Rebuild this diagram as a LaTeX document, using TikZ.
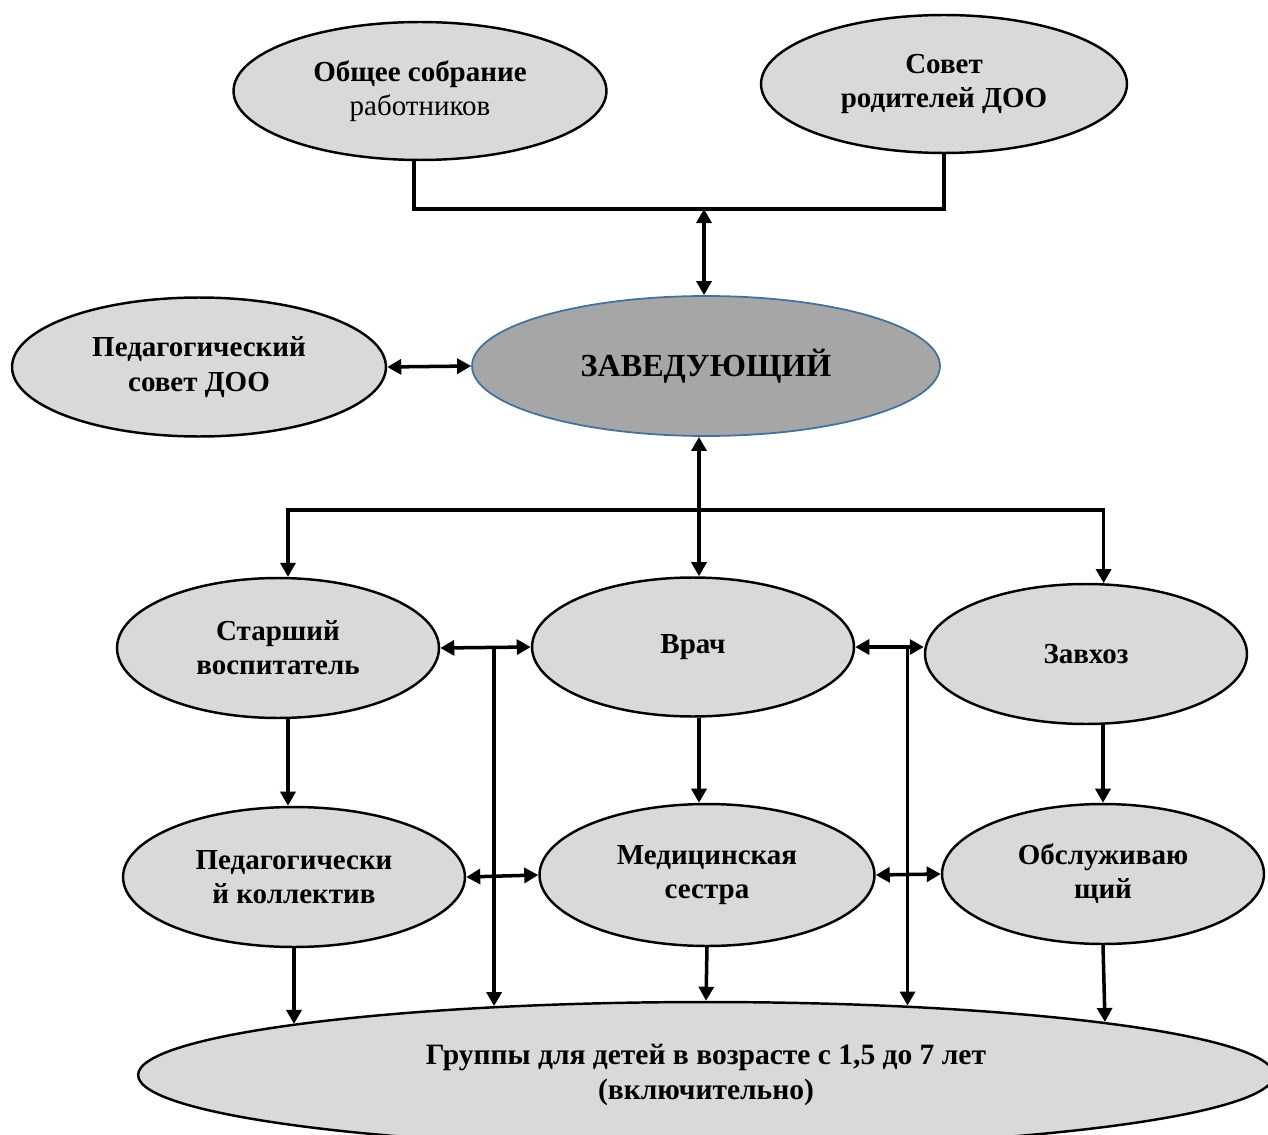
\documentclass[tikz,border=0pt]{standalone}
\usepackage{fontspec}
\setmainfont{Liberation Serif}
\usetikzlibrary{arrows.meta,shapes.geometric}
\definecolor{ovalgray}{HTML}{D9D9D9}
\definecolor{headgray}{HTML}{A6A6A6}
\definecolor{headblue}{HTML}{41719C}

\begin{document}
\begin{tikzpicture}[x=0.02cm, y=-0.02cm,
    oval/.style={ellipse, draw, line width=1.4pt, fill=ovalgray, inner sep=0pt,
      align=center, font=\fontsize{16.5}{19.5}\selectfont\bfseries},
    link/.style={line width=2pt},
    tip/.style={line width=2pt, -{Triangle[length=8pt,width=8.5pt]}},
    both/.style={line width=2pt,
      {Triangle[length=8pt,width=8.5pt]}-{Triangle[length=8pt,width=8.5pt]}}]
      \useasboundingbox (0,0) rectangle (1268,1135);
      % COUNCILS
      \node[oval, minimum width=7.46cm, minimum height=2.76cm] (sobranie) at (420,91)
        {Общее собрание\\{\mdseries работников}};
      \node[oval, minimum width=7.32cm, minimum height=2.76cm] (sovet) at (944,84)
        {Совет\\родителей ДОО};
      % HEAD
      \node[oval, draw=headblue, fill=headgray, line width=1pt,
        minimum width=9.36cm, minimum height=2.8cm,
        font=\fontsize{18.3}{22}\selectfont\bfseries] (zav) at (706,366) {ЗАВЕДУЮЩИЙ};
      \node[oval, minimum width=7.48cm, minimum height=2.78cm] (pedsovet) at (199,367)
        {Педагогический\\совет ДОО};
      % SECOND ROW
      \node[oval, minimum width=6.44cm, minimum height=2.8cm] (starsh) at (278,648)
        {Старший\\воспитатель};
      \node[oval, minimum width=6.44cm, minimum height=2.78cm] (vrach) at (693,647) {Врач};
      \node[oval, minimum width=6.44cm, minimum height=2.8cm] (zavhoz) at (1086,654) {Завхоз};
      % THIRD ROW
      \node[oval, minimum width=6.84cm, minimum height=2.8cm] (pedkol) at (294,877)
        {Педагогически\\й коллектив};
      \node[oval, minimum width=6.7cm, minimum height=2.84cm] (medsestra) at (707,875)
        {Медицинская\\сестра};
      \node[oval, minimum width=6.44cm, minimum height=2.8cm] (obsl) at (1103,874)
        {Обслуживаю\\щий};
      % GROUPS
      \node[oval, minimum width=22.72cm, minimum height=2.92cm,
        font=\fontsize{16.8}{19.5}\selectfont\bfseries] (gruppy) at (706,1075)
        {Группы для детей в возрасте с 1,5 до 7 лет\\(включительно)};
      \path (gruppy.center) ++(-412,-51) coordinate (gLeft);
      \path (gruppy.center) ++(399,-53) coordinate (gRight);
      % TOP LINKS
      \coordinate (jTop) at (704,209);
      \coordinate (jBus) at (699,510);
      \draw[link] (sobranie.265) |- (jTop) -| (sovet.south);
      \draw[both] (jTop) -- (jTop |- zav.north);
      \draw[both] (pedsovet.east) -- (zav.west);
      \draw[both] (jBus |- zav.south) -- (jBus |- vrach.north);
      \draw[tip] (jBus) -| (starsh.82);
      \draw[tip] (jBus) -| (zavhoz.76);
      % ROW LINKS
      \draw[both] (starsh.east) -- (vrach.west);
      \draw[both] (vrach.east) -- (vrach.east -| zavhoz.west);
      \draw[both] (pedkol.east) -- (medsestra.west);
      \draw[both] (medsestra.east) -- (obsl.west);
      \draw[tip] (gruppy.162 |- vrach.west) -- (gruppy.162);
      \draw[tip] (gruppy.19 |- vrach.east) -- (gruppy.19);
      % DOWN LINKS
      \draw[tip] (starsh.278) -- (starsh.278 |- pedkol.north);
      \draw[tip] (jBus |- vrach.south) -- (jBus |- medsestra.north);
      \draw[tip] (obsl.north |- zavhoz.south) -- (obsl.north);
      \draw[tip] (pedkol.south) -- (gLeft);
      \draw[tip] (medsestra.south) -- (gruppy.north);
      \draw[tip] (obsl.south) -- (gRight);
    \end{tikzpicture}
\end{document}
